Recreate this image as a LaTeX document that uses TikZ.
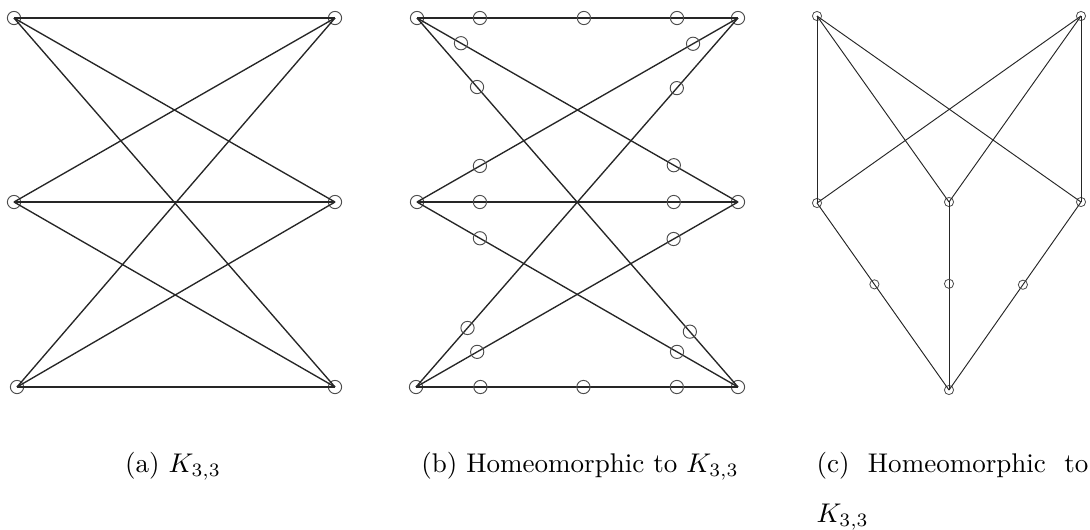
\documentclass[tikz,border=0pt]{standalone}
\usepackage{tikz}
\usetikzlibrary{calc}
\tikzset{
  vtx/.style    = {circle, draw=black!70, line width=0.35pt, minimum size=4.9pt,
                   inner sep=0pt},
  sub/.style    = {vtx},
  dot/.style    = {circle, draw=black!70, line width=0.3pt, minimum size=3.4pt,
                   inner sep=0pt},
  edg/.style    = {draw=black!85, line width=0.5pt},
  thinedg/.style = {draw=black!85, line width=0.35pt},
  captxt/.style = {inner sep=0pt, font=\normalsize},
}

\begin{document}
\begin{tikzpicture}[x=0.37pt, y=-0.37pt]
  \useasboundingbox (0,0) rectangle (1090,529);

  % (a) K_{3,3}
  \node[vtx] (a1) at (14,18) {};
  \node[vtx] (a2) at (14,202) {};
  \node[vtx] (a3) at (17,387) {};
  \node[vtx] (a4) at (335,18) {};
  \node[vtx] (a5) at (335,202) {};
  \node[vtx] (a6) at (335,387) {};

  \draw[edg] (a1.center) -- (a4.center);
  \draw[edg] (a1.center) -- (a5.center);
  \draw[edg] (a1.center) -- (a6.center);
  \draw[edg] (a2.center) -- (a4.center);
  \draw[edg] (a2.center) -- (a5.center);
  \draw[edg] (a2.center) -- (a6.center);
  \draw[edg] (a3.center) -- (a4.center);
  \draw[edg] (a3.center) -- (a5.center);
  \draw[edg] (a3.center) -- (a6.center);

  % (b) subdivided K_{3,3}
  \node[vtx] (b1) at (417,18) {};
  \node[vtx] (b2) at (417,202) {};
  \node[vtx] (b3) at (416,387) {};
  \node[vtx] (b4) at (738,18) {};
  \node[vtx] (b5) at (738,202) {};
  \node[vtx] (b6) at (738,387) {};

  \draw[edg] (b1.center) -- node[sub, pos=.196] (s1) {} node[sub, pos=.52] (s2) {}
                            node[sub, pos=.81] (s3) {} (b4.center);
  \draw[edg] (b1.center) -- node[sub, pos=.137] (s4) {} node[sub, pos=.8] (s5) {} (b5.center);
  \draw[edg] (b1.center) -- node[sub, pos=.187] (s6) {} node[sub, pos=.85] (s7) {} (b6.center);
  \draw[edg] (b2.center) -- node[sub, pos=.196] (s8) {} node[sub, pos=.86] (s9) {} (b4.center);
  \draw[edg] (b2.center) -- node[sub, pos=.196] (s10) {} node[sub, pos=.8] (s11) {} (b5.center);
  \draw[edg] (b2.center) -- node[sub, pos=.196] (s12) {} node[sub, pos=.81] (s13) {} (b6.center);
  \draw[edg] (b3.center) -- node[sub, pos=.16] (s14) {} node[sub, pos=.81] (s15) {} (b4.center);
  \draw[edg] (b3.center) -- node[sub, pos=.19] (s16) {} node[sub, pos=.8] (s17) {} (b5.center);
  \draw[edg] (b3.center) -- node[sub, pos=.2] (s18) {} node[sub, pos=.52] (s19) {}
                            node[sub, pos=.81] (s20) {} (b6.center);

  % (c) another drawing
  \node[dot] (c1) at (817,16) {};
  \node[dot] (c2) at (1081,16) {};
  \node[dot] (c3) at (817,203) {};
  \node[dot] (c4) at (949,202) {};
  \node[dot] (c5) at (1081,202) {};
  \node[dot] (c6) at (949,390) {};

  \draw[thinedg] (c1.center) -- (c3.center);
  \draw[thinedg] (c1.center) -- (c4.center);
  \draw[thinedg] (c1.center) -- (c5.center);
  \draw[thinedg] (c2.center) -- (c3.center);
  \draw[thinedg] (c2.center) -- (c4.center);
  \draw[thinedg] (c2.center) -- (c5.center);
  \draw[thinedg] (c3.center) -- node[dot, pos=.435] (d1) {} (c6.center);
  \draw[thinedg] (c4.center) -- node[dot, pos=.435] (d2) {} (c6.center);
  \draw[thinedg] (c5.center) -- node[dot, pos=.44] (d3) {} (c6.center);

  % captions
  \node[captxt, anchor=base] (capa) at (173,472) {(a) $K_{3,3}$};
  \node[captxt, anchor=base] (capb) at (580,472) {(b) Homeomorphic to $K_{3,3}$};
  \node[captxt, anchor=base west, text width=100.6pt, align=justify,
        execute at begin node={\baselineskip=18.6pt}] (capc) at (816,472)
        {(c) Homeomorphic to $K_{3,3}$};
\end{tikzpicture}
\end{document}
